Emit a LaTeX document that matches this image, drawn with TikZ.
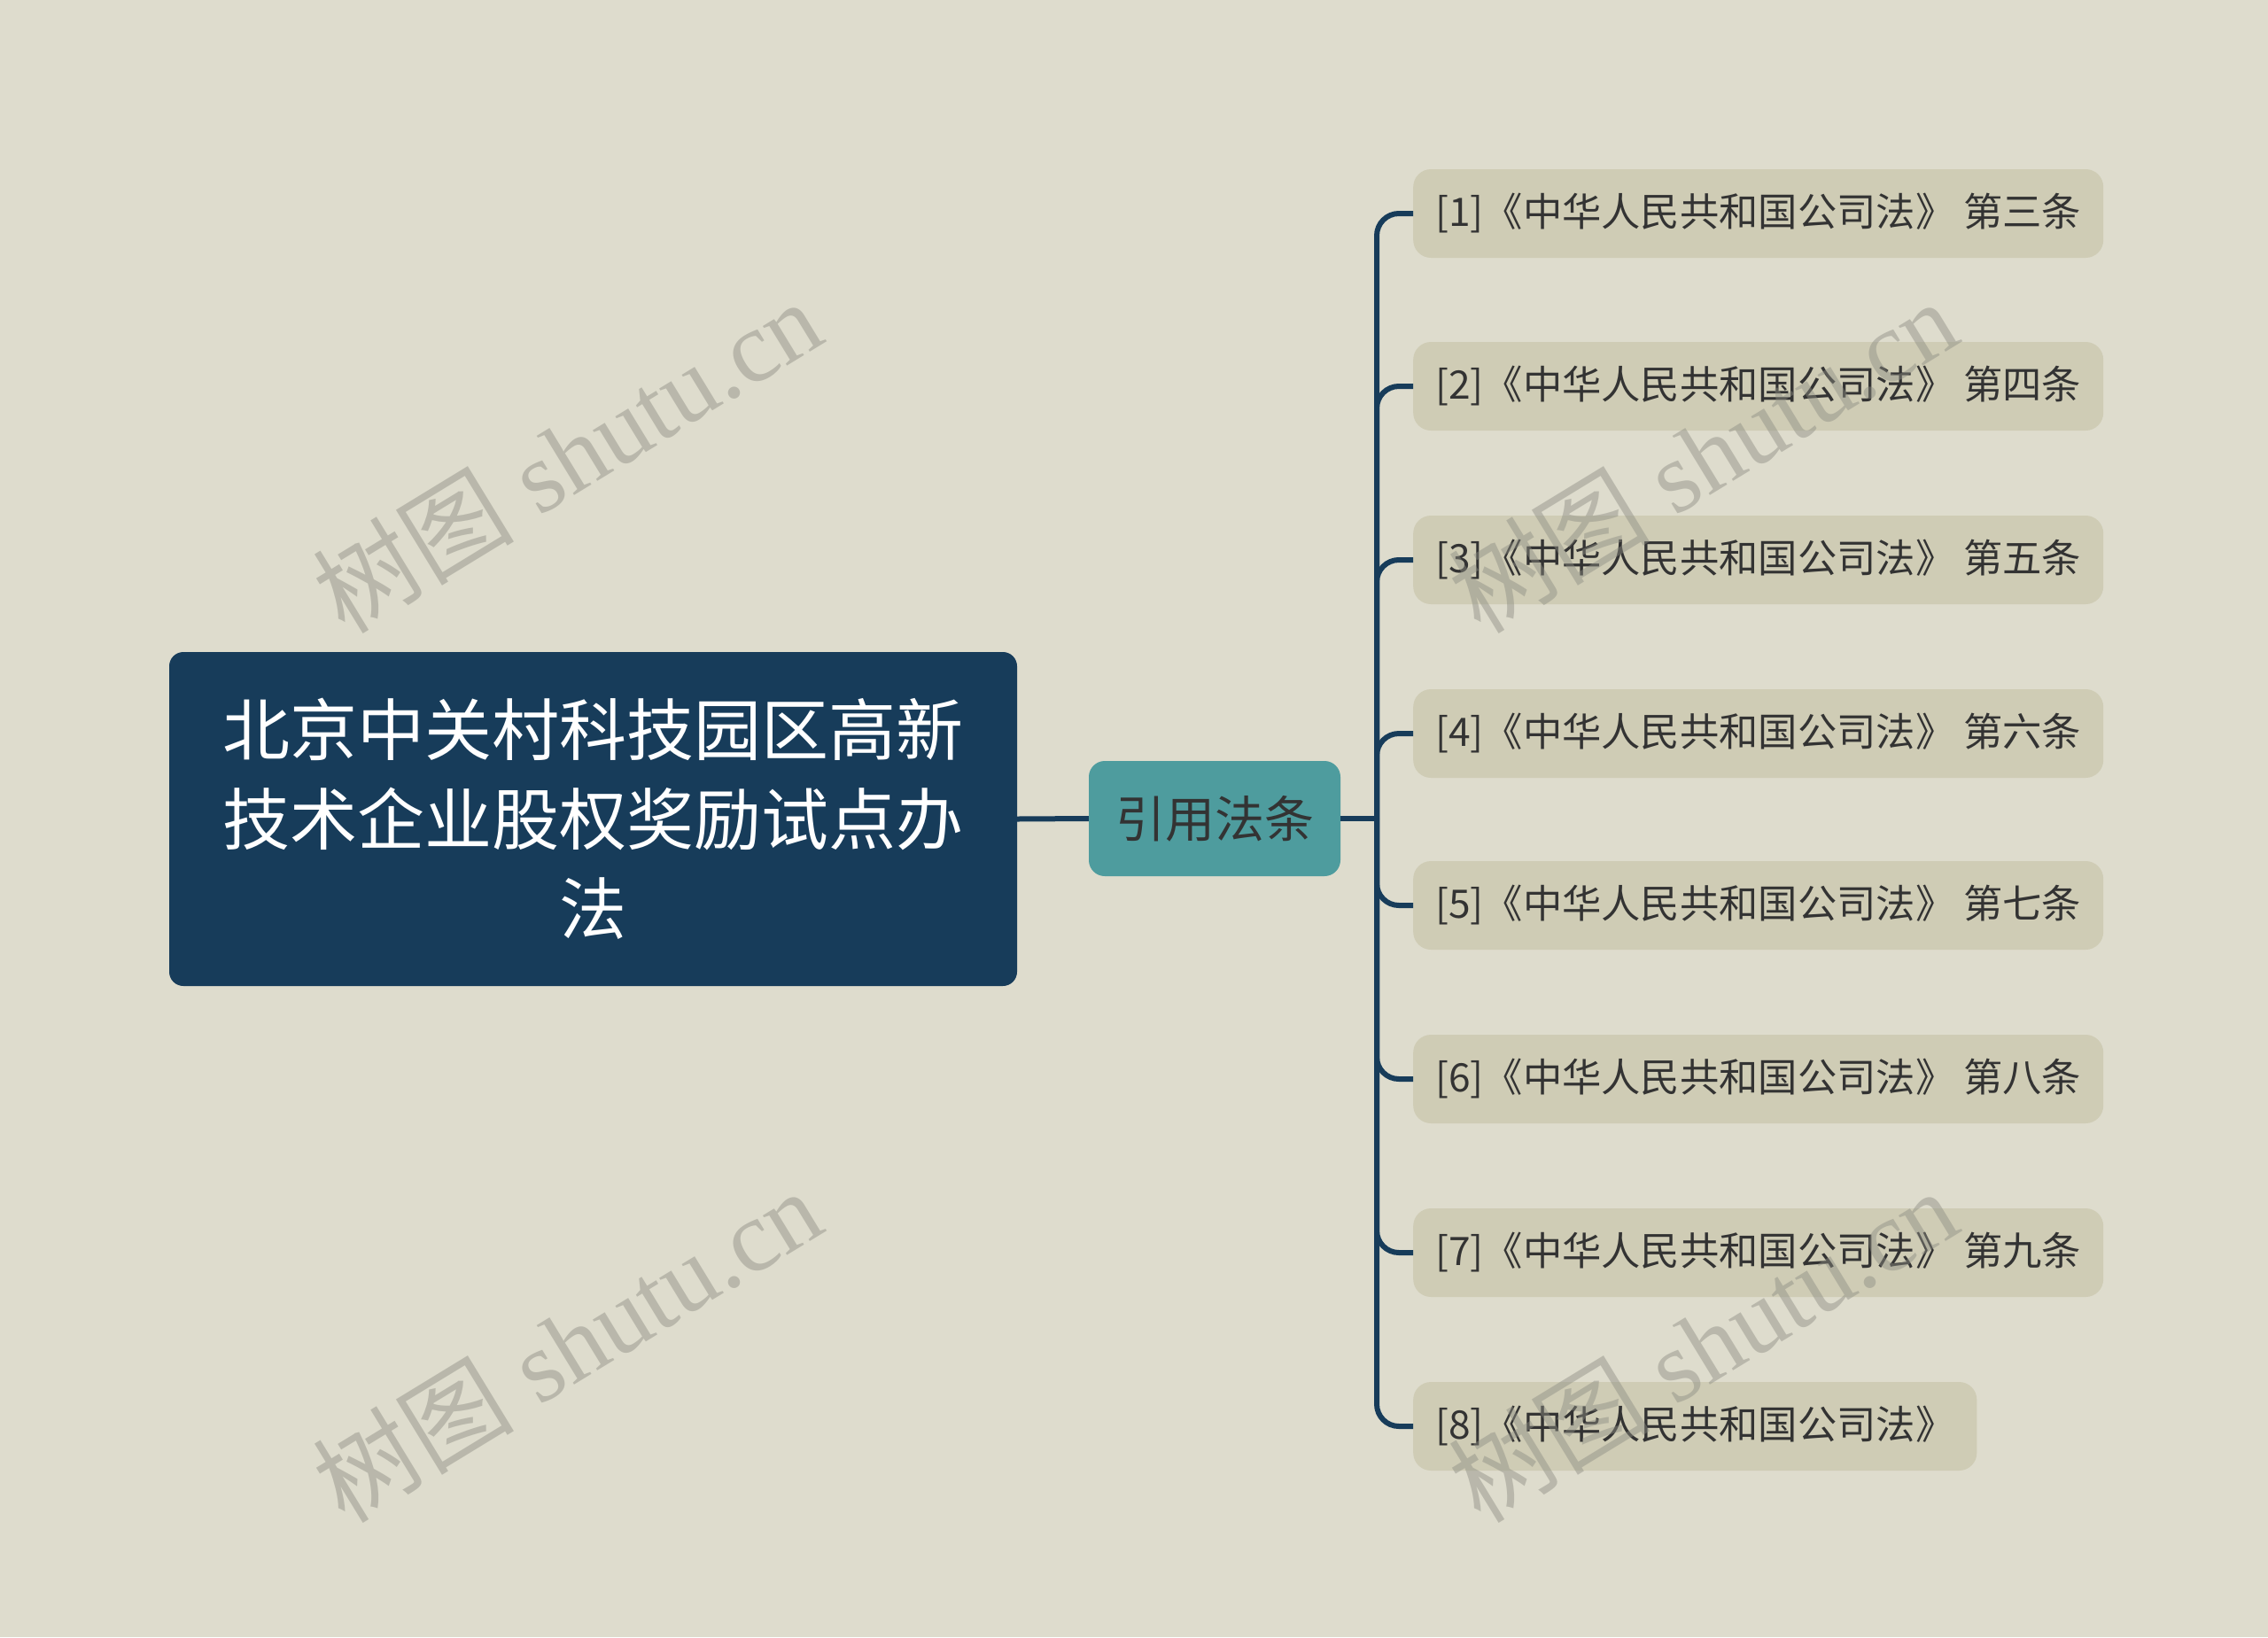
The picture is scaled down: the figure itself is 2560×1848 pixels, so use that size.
\documentclass[tikz,border=0pt]{standalone}
\usepackage{fontspec}
\newfontfamily\cjk{Noto Sans CJK SC}
\newfontfamily\wmserif{Liberation Serif}
\definecolor{bgc}{RGB}{222,220,205}
\definecolor{navyc}{RGB}{23,60,90}
\definecolor{tealc}{RGB}{78,156,158}
\definecolor{leafc}{RGB}{207,204,181}
\definecolor{inkc}{RGB}{51,51,51}
\definecolor{wmc}{RGB}{140,140,130}
\tikzset{
  rootbox/.style={fill=navyc, rounded corners=16pt, minimum width=957pt, minimum height=377pt,
    text=white, align=center, font=\cjk\fontsize{76}{101}\selectfont, inner sep=0pt},
  midbox/.style={fill=tealc, rounded corners=18pt, minimum width=284pt, minimum height=130pt,
    text=inkc, font=\cjk\fontsize{56}{66}\selectfont, inner sep=0pt},
  leafbox/.style={fill=leafc, rounded corners=20pt, minimum height=100pt, inner xsep=25pt,
    inner ysep=0pt, text=inkc, font=\cjk\fontsize{44.3}{52}\selectfont, anchor=west},
  conn/.style={draw=navyc, line width=6pt},
  wm/.style={text=wmc, text opacity=0.45, font=\wmserif\fontsize{114}{130}\selectfont, rotate=31.4}
}
\begin{document}
\begin{tikzpicture}[x=1pt,y=-1pt]
\fill[bgc] (0,0) rectangle (2560,1848);
\useasboundingbox (0,0) rectangle (2560,1848);

\node[rootbox] (root) at (669.5,924.5) {北京中关村科技园区高新\\技术企业股权奖励试点办\\法};
\node[midbox] (mid) at (1371,924) {引用法条};

\node[leafbox] (l1) at (1595,241) {[1]《中华人民共和国公司法》 第三条};
\node[leafbox] (l2) at (1595,436) {[2]《中华人民共和国公司法》 第四条};
\node[leafbox] (l3) at (1595,632) {[3]《中华人民共和国公司法》 第五条};
\node[leafbox] (l4) at (1595,828) {[4]《中华人民共和国公司法》 第六条};
\node[leafbox] (l5) at (1595,1022) {[5]《中华人民共和国公司法》 第七条};
\node[leafbox] (l6) at (1595,1218) {[6]《中华人民共和国公司法》 第八条};
\node[leafbox] (l7) at (1595,1414) {[7]《中华人民共和国公司法》 第九条};
\node[leafbox] (l8) at (1595,1610) {[8]《中华人民共和国公司法》};

\coordinate (j) at (1554,924);
\draw[conn] (root.east) -- (mid.west);
\draw[conn] (mid.east) -- (j);
\foreach \n in {l1,l2,l3,l4,l5,l6,l7,l8}{
  \draw[conn, rounded corners=25pt] (j) |- (\n.west);
}

\node[wm] (w1) at (640,514) {{\cjk 树图} shutu.cn};
\node[wm] (w2) at (640,1518) {{\cjk 树图} shutu.cn};
\node[wm] (w3) at (1922,514) {{\cjk 树图} shutu.cn};
\node[wm] (w4) at (1922,1518) {{\cjk 树图} shutu.cn};
\end{tikzpicture}
\end{document}
